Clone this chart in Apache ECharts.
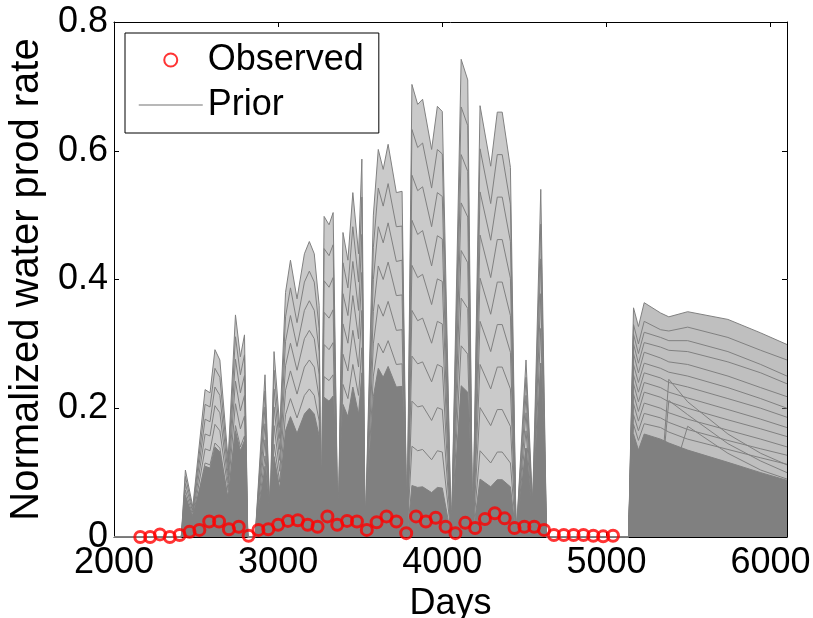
<!DOCTYPE html>
<html><head><meta charset="utf-8">
<script src="https://cdn.jsdelivr.net/npm/echarts@6/dist/echarts.min.js"></script>
<style>html,body{margin:0;padding:0;background:#fff}#c{width:813px;height:618px}</style>
</head><body><div id="c"></div>
<script>
// Observed data (every 60 days)
const obsDays = [2160,2220,2280,2340,2400,2460,2520,2580,2640,2700,2760,2820,2880,2940,3000,3060,3120,3180,3240,3300,3360,3420,3480,3540,3600,3660,3720,3780,3840,3900,3960,4020,4080,4140,4200,4260,4320,4380,4440,4500,4560,4620,4680,4740,4800,4860,4920,4980,5040];
const obsRate = [0,0,0.004,0,0.003,0.008,0.011,0.024,0.024,0.012,0.016,0.002,0.011,0.012,0.019,0.025,0.026,0.019,0.016,0.032,0.019,0.025,0.024,0.011,0.023,0.032,0.024,0.006,0.032,0.024,0.03,0.016,0.006,0.022,0.014,0.028,0.037,0.029,0.014,0.016,0.016,0.011,0.003,0.003,0.003,0.003,0.002,0.001,0.002];

// Prior ensemble, first production period
const prior1Days = [2000,2410,2435,2480,2555,2585,2615,2645,2695,2740,2770,2795,2815,2860,2920,2950,2975,3010,3045,3075,3115,3160,3190,3220,3250,3262,3280,3310,3335,3365,3395,3425,3455,3490,3510,3530,3580,3610,3640,3670,3720,3755,3785,3815,3850,3880,3935,3970,4000,4055,4115,4155,4185,4230,4295,4335,4365,4415,4450,4510,4550,4600,4635,5135];
const prior1Top = [0,0,0.104,0.047,0.229,0.224,0.291,0.275,0.12,0.345,0.28,0.314,0,0,0.252,0.04,0.288,0.17,0.38,0.43,0.37,0.44,0.459,0.44,0.36,0,0.498,0.485,0.504,0,0.473,0.43,0.535,0.44,0.587,0,0.5,0.602,0.571,0.61,0.535,0.537,0,0.703,0.672,0.68,0.602,0.669,0.661,0,0.742,0.71,0,0.67,0.576,0.66,0.66,0.574,0,0.275,0.05,0.54,0,0];
const prior1L2 = [0,0,.094,.042,.206,.202,.262,.248,.108,.311,.252,.283,0,0,.227,.036,.259,.153,.342,.387,.333,.396,.413,.396,.324,0,.448,.437,.454,0,.426,.387,.482,.396,.528,0,.45,.542,.514,.549,.482,.483,0,.633,.605,.612,.542,.602,.595,0,.668,.639,0,.603,.518,.594,.594,.517,0,.248,.045,.486,0,0];
const prior1L3 = [0,0,.083,.038,.183,.179,.233,.22,.096,.276,.224,.251,0,0,.202,.032,.23,.136,.304,.344,.296,.352,.367,.352,.288,0,.398,.388,.403,0,.378,.344,.428,.352,.47,0,.4,.482,.457,.488,.428,.43,0,.562,.538,.544,.482,.535,.529,0,.594,.568,0,.536,.461,.528,.528,.459,0,.22,.04,.432,0,0];
const prior1L4 = [0,0,.073,.033,.16,.157,.204,.193,.084,.242,.196,.22,0,0,.176,.028,.202,.119,.266,.301,.259,.308,.321,.308,.252,0,.349,.34,.353,0,.331,.301,.375,.308,.411,0,.35,.421,.4,.427,.375,.376,0,.492,.47,.476,.421,.468,.463,0,.519,.497,0,.469,.403,.462,.462,.402,0,.193,.035,.378,0,0];
const prior1L5 = [0,0,.062,.028,.137,.134,.175,.165,.072,.207,.168,.188,0,0,.151,.024,.173,.102,.228,.258,.222,.264,.275,.264,.216,0,.299,.291,.302,0,.284,.258,.321,.264,.352,0,.3,.361,.343,.366,.321,.322,0,.422,.403,.408,.361,.401,.397,0,.445,.426,0,.402,.346,.396,.396,.344,0,.165,.03,.324,0,0];
const prior1L6 = [0,0,.052,.024,.115,.112,.146,.138,.06,.173,.14,.157,0,0,.126,.02,.144,.085,.19,.215,.185,.22,.23,.22,.18,0,.249,.243,.252,0,.237,.215,.268,.22,.294,0,.25,.301,.286,.305,.268,.269,0,.352,.336,.34,.301,.335,.331,0,.371,.355,0,.335,.288,.33,.33,.287,0,.138,.025,.27,0,0];
const prior1L7 = [0,0,.042,.019,.092,.09,.116,.11,.048,.138,.112,.126,0,0,.101,.016,.115,.068,.152,.172,.148,.176,.184,.176,.144,0,.199,.194,.202,0,.189,.172,.214,.176,.235,0,.2,.241,.228,.244,.214,.215,0,.281,.269,.272,.241,.268,.264,0,.297,.284,0,.268,.23,.264,.264,.23,0,.11,.02,.216,0,0];
const prior1L8 = [0,0,.031,.014,.069,.067,.087,.083,.036,.104,.084,.094,0,0,.076,.012,.086,.051,.114,.129,.111,.132,.138,.132,.108,0,.149,.146,.151,0,.142,.129,.161,.132,.176,0,.15,.181,.171,.183,.161,.161,0,.211,.202,.204,.181,.201,.198,0,.223,.213,0,.201,.173,.198,.198,.172,0,.083,.015,.162,0,0];
const prior1L9 = [0,0,.021,.009,.046,.045,.058,.055,.024,.069,.056,.063,0,0,.05,.008,.058,.034,.076,.086,.074,.088,.092,.088,.072,0,.1,.097,.101,0,.095,.086,.107,.088,.117,0,.1,.12,.114,.122,.107,.107,0,.141,.134,.136,.12,.134,.132,0,.148,.142,0,.134,.115,.132,.132,.115,0,.055,.01,.108,0,0];
const prior1Core = [0,0,.065,.03,.11,.107,.14,.132,.058,.165,.134,.15,0,0,.11,.017,.125,.075,.165,.187,.161,.191,.2,.191,.157,0,.217,.211,.219,0,.206,.187,.233,.191,.255,0,.218,.262,.248,.265,.233,.234,0,.08,.077,.078,.069,.077,.076,0,.235,.225,0,.09,.078,.089,.089,.078,0,.138,.025,.27,0,0];

// Prior ensemble, second production period
const prior2Days = [5135,5165,5195,5230,5330,5380,5495,5740,5940,6100];
const prior2Q1 = [0,.356,.327,.364,.348,.342,.35,.338,.317,.299];
const prior2Q2 = [0,.33,.30,.335,.322,.32,.326,.31,.29,.275];
const prior2Q3 = [0,.315,.285,.318,.31,.305,.305,.288,.268,.25];
const prior2Q4 = [0,.3,.27,.302,.295,.29,.288,.272,.255,.238];
const prior2Q5 = [0,.285,.255,.287,.278,.272,.268,.25,.232,.218];
const prior2Q6 = [0,.268,.24,.27,.262,.256,.25,.232,.215,.2];
const prior2Q7 = [0,.252,.225,.255,.247,.24,.233,.215,.2,.186];
const prior2Q8 = [0,.238,.21,.24,.232,.225,.216,.198,.183,.17];
const prior2Q9 = [0,.222,.195,.225,.217,.21,.2,.182,.168,.156];
const prior2Q10 = [0,.207,.18,.208,.2,.193,.183,.166,.152,.14];
const prior2Q11 = [0,.19,.165,.192,.185,.178,.167,.15,.137,.127];
const prior2Q12 = [0,.175,.15,.176,.17,.163,.152,.136,.123,.113];
const prior2D1 = [0,.13,.1,.09,.075,.245,.21,.16,.13,.112];
const prior2D2 = [0,.11,.085,.08,.07,.212,.19,.145,.118,.1];
const prior2D3 = [0,.1,.075,.07,.062,.075,.172,.13,.104,.09];
const prior2Core = [0,.16,.135,.16,.152,.146,.135,.116,.1,.088];

const xTicks = [2000,3000,4000,5000,6000];
const yTicks = [0,0.2,0.4,0.6,0.8];

const FONT = "'Liberation Sans', Arial, sans-serif";
const GRAY = '#808080';
const pairs = (d, v) => d.map((x, i) => [x, v[i]]);

const series = [];
// translucent envelope (density of many ensemble members)
[[prior1Days, prior1Top, 0.42], [prior2Days, prior2Q1, 0.5]].forEach(([d, v, a]) => series.push({
  name: 'band', type: 'line', data: pairs(d, v), symbol: 'none', silent: true,
  lineStyle: {width: 0}, areaStyle: {color: 'rgba(128,128,128,' + a + ')', opacity: 1}, z: 1
}));
// dense solid core
[[prior1Days, prior1Core], [prior2Days, prior2Core]].forEach(([d, v]) => series.push({
  name: 'core', type: 'line', data: pairs(d, v), symbol: 'none', silent: true,
  lineStyle: {width: 1, color: GRAY}, areaStyle: {color: GRAY, opacity: 1}, z: 2
}));
const p1 = [prior1Top, prior1L2, prior1L3, prior1L4, prior1L5, prior1L6, prior1L7, prior1L8, prior1L9];
const p2 = [prior2Q1, prior2Q2, prior2Q3, prior2Q4, prior2Q5, prior2Q6, prior2Q7, prior2Q8, prior2Q9, prior2Q10, prior2Q11, prior2Q12, prior2D1, prior2D2, prior2D3];
p1.forEach(v => series.push({name: 'Prior', type: 'line', data: pairs(prior1Days, v), symbol: 'none', silent: true,
  lineStyle: {width: 1, color: GRAY}, itemStyle: {color: GRAY}, z: 3}));
p2.forEach(v => series.push({name: 'Prior', type: 'line', data: pairs(prior2Days, v), symbol: 'none', silent: true,
  lineStyle: {width: 1, color: GRAY}, itemStyle: {color: GRAY}, z: 3}));
series.push({
  name: 'Observed', type: 'scatter', data: pairs(obsDays, obsRate), symbol: 'circle', symbolSize: 11,
  itemStyle: {color: 'rgba(255,255,255,0)', borderColor: '#ff0000', borderWidth: 3}, z: 5
});

const axLine = {show: true, onZero: false, lineStyle: {color: '#000', width: 1}};
const tick = {show: true, inside: true, length: 5, lineStyle: {color: '#000'}};
const lbl = {fontSize: 36, fontFamily: FONT, color: '#000'};

const chart = echarts.init(document.getElementById('c'), null, {renderer: 'canvas'});
chart.setOption({
  animation: false,
  backgroundColor: '#fff',
  grid: {left: 114, right: 26, top: 22, bottom: 81, containLabel: false, outerBoundsMode: 'none'},
  legend: {
    data: [
      {name: 'Observed'},
      {name: 'Prior', itemStyle: {opacity: 0, borderWidth: 0}, lineStyle: {color: '#a0a0a0', width: 1.5}}
    ],
    orient: 'vertical', left: 125, top: 33,
    padding: [7, 15, 8, 13], itemWidth: 64, itemHeight: 13, itemGap: 5,
    backgroundColor: '#fff', borderColor: '#000', borderWidth: 1, selectedMode: false,
    textStyle: {fontSize: 36, fontFamily: FONT, color: '#000', lineHeight: 40}
  },
  xAxis: [{
    type: 'value', min: 2000, max: 6100, interval: 1000, position: 'bottom',
    axisLine: axLine, axisTick: tick, splitLine: {show: false},
    axisLabel: Object.assign({margin: 8, showMaxLabel: false,
      formatter: v => xTicks.indexOf(v) >= 0 ? String(v) : ''}, lbl),
    name: 'Days', nameLocation: 'middle', nameGap: 44, nameTextStyle: lbl
  }, {
    type: 'value', min: 2000, max: 6100, interval: 1000, position: 'top',
    axisLine: axLine, axisTick: tick, splitLine: {show: false}, axisLabel: {show: false}
  }],
  yAxis: [{
    type: 'value', min: 0, max: 0.8, interval: 0.2, position: 'left',
    axisLine: axLine, axisTick: tick, splitLine: {show: false},
    axisLabel: Object.assign({margin: 6, formatter: v => yTicks.indexOf(+v.toFixed(1)) >= 0 ? String(+v.toFixed(1)) : ''}, lbl),
    name: 'Normalized water prod rate', nameLocation: 'middle', nameGap: 60,
    nameTextStyle: Object.assign({}, lbl, {fontSize: 40})
  }, {
    type: 'value', min: 0, max: 0.8, interval: 0.2, position: 'right',
    axisLine: axLine, axisTick: tick, splitLine: {show: false}, axisLabel: {show: false}
  }],
  series: series
});
</script>
</body></html>
